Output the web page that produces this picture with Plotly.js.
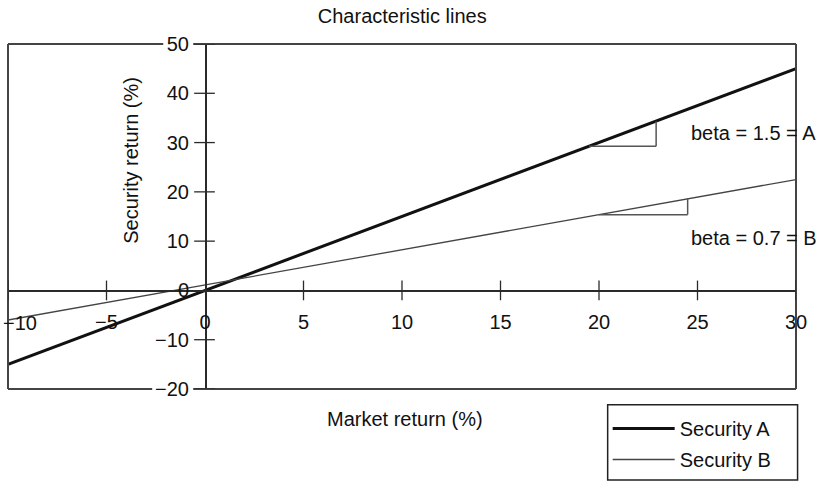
<!DOCTYPE html>
<html>
<head>
<meta charset="utf-8">
<script src="https://cdn.plot.ly/plotly-3.0.1.min.js"></script>
<style>html,body{margin:0;padding:0;background:#fff;}#chart{width:826px;height:487px;}</style>
</head>
<body>
<div id="chart"></div>
<script>
// ---- data ----
const marketReturn = [-10, 30];
const securityA = [-15, 45];
const securityB = [-6, 22.5];
const seriesNames = ['Security A', 'Security B'];
const xTickVals = [-10, -5, 0, 5, 10, 15, 20, 25, 30];
const yTickVals = [-20, -10, 0, 10, 20, 30, 40, 50];
const betaLabels = ['beta = 1.5 = A', 'beta = 0.7 = B'];

// ---- helpers ----
function lineAt(xs, ys, x) {
  const t = (x - xs[0]) / (xs[1] - xs[0]);
  return ys[0] + t * (ys[1] - ys[0]);
}
function fmt(v) { return v < 0 ? '\u2212' + Math.abs(v) : String(v); }
const FONT = 'Liberation Sans, Arial, Helvetica, sans-serif';
const DARK = '#2a2a2a';
const xRange = [-10, 30];
const yRange = [-20, 50];
const xAxisPos = (0 - yRange[0]) / (yRange[1] - yRange[0]);
const yAxisPos = (0 - xRange[0]) / (xRange[1] - xRange[0]);

// the left-most x label sits at the frame edge: drawn as an annotation so it stays inside
const xTickText = xTickVals.map(v => v === xRange[0] ? '' : fmt(v));

const traces = [
  {x: marketReturn, y: securityA, name: seriesNames[0], mode: 'lines',
   line: {color: '#111', width: 3}, legendgroup: 'a', hoverinfo: 'skip'},
  {x: marketReturn, y: securityB, name: seriesNames[1], mode: 'lines',
   line: {color: '#444', width: 1.3}, legendgroup: 'b', hoverinfo: 'skip'}
];

const shapes = [];
// frame (paper coords) with gaps behind the 50 and -20 labels
const frame = {type: 'line', xref: 'paper', yref: 'paper', line: {color: '#444', width: 2}};
shapes.push(Object.assign({}, frame, {x0: 0, x1: 0, y0: 0, y1: 1}));
shapes.push(Object.assign({}, frame, {x0: 1, x1: 1, y0: 0, y1: 1}));
shapes.push(Object.assign({}, frame, {x0: 0, x1: 0.197, y0: 1, y1: 1}));
shapes.push(Object.assign({}, frame, {x0: 0.235, x1: 1, y0: 1, y1: 1}));
shapes.push(Object.assign({}, frame, {x0: 0, x1: 0.183, y0: 0, y1: 0}));
shapes.push(Object.assign({}, frame, {x0: 0.235, x1: 1, y0: 0, y1: 0}));
// legend box
shapes.push({type: 'rect', xref: 'paper', yref: 'paper', x0: 0.761, x1: 1.002, y0: -0.264, y1: -0.046,
  line: {color: '#222', width: 1.5}, fillcolor: 'rgba(0,0,0,0)'});
// crossing tick marks
xTickVals.forEach(v => {
  if (v === 0) return;
  shapes.push({type: 'line', xref: 'x', yref: 'y', x0: v, x1: v, y0: -2, y1: 2,
    line: {color: DARK, width: 1.3}});
});
yTickVals.forEach(v => {
  if (v === 0) return;
  shapes.push({type: 'line', xref: 'x', yref: 'y', x0: -0.55, x1: 0.5, y0: v, y1: v,
    line: {color: DARK, width: 1.3}});
});
// slope triangles
function triangle(ys, xa, xb) {
  const y0 = lineAt(marketReturn, ys, xa);
  const y1 = lineAt(marketReturn, ys, xb);
  shapes.push({type: 'line', xref: 'x', yref: 'y', x0: xa, x1: xb, y0: y0, y1: y0,
    line: {color: '#555', width: 1.5}});
  shapes.push({type: 'line', xref: 'x', yref: 'y', x0: xb, x1: xb, y0: y0, y1: y1,
    line: {color: '#555', width: 1.5}});
}
triangle(securityA, 19.5, 22.9);
triangle(securityB, 20.0, 24.5);

const annotations = [
  {text: fmt(xRange[0]), xref: 'x', yref: 'y', x: xRange[0], y: 0, xanchor: 'left', yanchor: 'top',
   xshift: -7, yshift: -20, showarrow: false, font: {family: FONT, size: 20, color: '#111'}},
  {text: betaLabels[0], xref: 'x', yref: 'y', x: 24.55, y: 31.9, xanchor: 'left', yanchor: 'middle',
   showarrow: false, font: {family: FONT, size: 20, color: '#111'}},
  {text: betaLabels[1], xref: 'x', yref: 'y', x: 24.55, y: 10.7, xanchor: 'left', yanchor: 'middle',
   showarrow: false, font: {family: FONT, size: 20, color: '#111'}},
  {text: 'Market return (%)', xref: 'paper', yref: 'paper', x: 0.504, y: -0.086,
   xanchor: 'center', yanchor: 'middle', showarrow: false, font: {family: FONT, size: 20, color: '#111'}},
  {text: 'Security return (%)', xref: 'paper', yref: 'paper', x: 0.155, y: 0.662, textangle: -90,
   xanchor: 'center', yanchor: 'middle', showarrow: false, font: {family: FONT, size: 20, color: '#111'}}
];

const layout = {
  width: 826, height: 487,
  margin: {l: 8, r: 30, t: 44, b: 94, pad: 0},
  paper_bgcolor: '#fff', plot_bgcolor: '#fff',
  font: {family: FONT, size: 20, color: '#111'},
  title: {text: 'Characteristic lines', x: 0.487, xanchor: 'center', y: 0.967, yanchor: 'middle',
    yref: 'container', font: {family: FONT, size: 20, color: '#111'}},
  xaxis: {range: xRange, anchor: 'free', position: xAxisPos, tickvals: xTickVals, ticktext: xTickText,
    ticks: '', ticklabelstandoff: 13, ticklabeloverflow: 'allow', showgrid: false, zeroline: false,
    showline: true, linecolor: DARK, linewidth: 1.5, fixedrange: true,
    tickfont: {family: FONT, size: 20, color: '#111'}},
  yaxis: {range: yRange, anchor: 'free', position: yAxisPos, tickvals: yTickVals,
    ticks: '', ticklabelstandoff: 12, ticklabeloverflow: 'allow', showgrid: false, zeroline: false,
    showline: true, linecolor: DARK, linewidth: 1.5, fixedrange: true,
    tickfont: {family: FONT, size: 20, color: '#111'}},
  showlegend: true,
  legend: {x: 0.761, y: -0.058, xanchor: 'left', yanchor: 'top', borderwidth: 0,
    bgcolor: 'rgba(0,0,0,0)', font: {family: FONT, size: 20, color: '#111'}, tracegroupgap: 2,
    itemwidth: 62},
  shapes: shapes,
  annotations: annotations
};

Plotly.newPlot('chart', traces, layout, {displayModeBar: false, staticPlot: true});
</script>
</body>
</html>
